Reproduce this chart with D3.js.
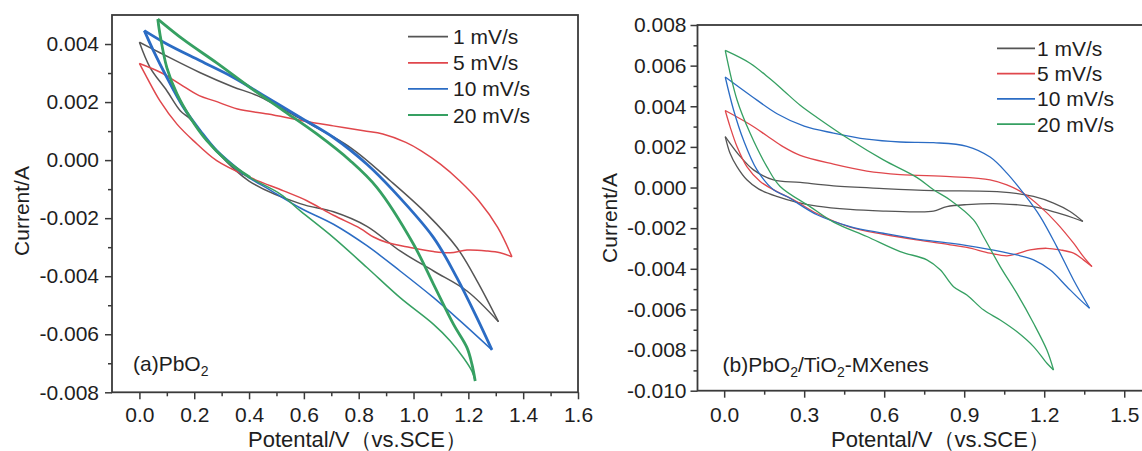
<!DOCTYPE html>
<html>
<head>
<meta charset="utf-8">
<script src="https://cdn.jsdelivr.net/npm/d3@7"></script>
<style>
  body { margin: 0; background: #fff; }
  svg text { font-family: "Liberation Sans", Arial, sans-serif; fill: #1e1e1e; }
</style>
</head>
<body>
<svg id="chart" width="1142" height="451"></svg>
<script>
// legend + colours
const seriesNames = ['1 mV/s', '5 mV/s', '10 mV/s', '20 mV/s']
const seriesColors = ['#555555', '#e0474c', '#2b6cc4', '#36a062']

// (a) PbO2 -- [potential V, current A], each loop split into its two branches
const a1Upper = [[0.0,0.00406],[0.075,0.0037],[0.22,0.00302],[0.34,0.00253],[0.43,0.00222],[0.59,0.00141],[0.77,0.00043],[0.915,-0.00071],[1.049,-0.00186],[1.158,-0.00301],[1.231,-0.00415],[1.31,-0.00557]]
const a1Lower = [[0.0,0.00406],[0.039,0.00319],[0.1,0.00239],[0.149,0.0017],[0.185,0.00142],[0.28,0.00032],[0.4,-0.00072],[0.586,-0.0015],[0.708,-0.00178],[0.83,-0.00228],[0.951,-0.00313],[1.073,-0.00382],[1.195,-0.00451],[1.31,-0.00557]]
const a5Upper = [[0.0,0.00333],[0.078,0.00302],[0.148,0.00262],[0.218,0.00222],[0.274,0.00204],[0.358,0.00176],[0.469,0.00159],[0.595,0.00136],[0.707,0.00118],[0.818,0.00101],[0.888,0.0009],[0.972,0.00061],[1.028,0.00032],[1.098,-0.00014],[1.168,-0.00071],[1.238,-0.0014],[1.307,-0.00232],[1.359,-0.00333]]
const a5Lower = [[0.0,0.00333],[0.027,0.00285],[0.075,0.00204],[0.137,0.00124],[0.197,0.00067],[0.282,-0.00002],[0.404,-0.0006],[0.526,-0.00106],[0.611,-0.0014],[0.708,-0.0019],[0.805,-0.00235],[0.854,-0.00265],[0.903,-0.00284],[0.988,-0.00301],[1.073,-0.00315],[1.134,-0.00319],[1.195,-0.0031],[1.268,-0.00313],[1.316,-0.00319],[1.359,-0.00333]]
const a10Upper = [[0.018,0.00446],[0.1,0.004],[0.222,0.00342],[0.343,0.00285],[0.465,0.00216],[0.587,0.00147],[0.708,0.00078],[0.83,-0.00014],[0.927,-0.00106],[1.073,-0.00267],[1.158,-0.00405],[1.231,-0.00543],[1.286,-0.00654]]
const a10Lower = [[0.018,0.00446],[0.051,0.00377],[0.1,0.00285],[0.161,0.00181],[0.222,0.00101],[0.282,0.00032],[0.38,-0.00048],[0.48,-0.00105],[0.587,-0.00165],[0.708,-0.00221],[0.83,-0.00295],[0.951,-0.00382],[1.073,-0.00474],[1.17,-0.00554],[1.286,-0.00654]]
const a20Upper = [[0.067,0.00486],[0.161,0.00415],[0.282,0.00335],[0.404,0.0025],[0.526,0.0017],[0.647,0.0009],[0.769,-0.00002],[0.866,-0.00094],[1.0,-0.0029],[1.073,-0.00428],[1.146,-0.00566],[1.195,-0.00646],[1.213,-0.00703],[1.225,-0.00761]]
const a20Lower = [[0.067,0.00486],[0.075,0.00434],[0.1,0.00319],[0.137,0.00228],[0.185,0.00147],[0.246,0.00067],[0.319,-0.00002],[0.404,-0.0006],[0.514,-0.00117],[0.587,-0.00175],[0.708,-0.00267],[0.83,-0.0037],[0.951,-0.00474],[1.073,-0.00566],[1.134,-0.00623],[1.182,-0.00681],[1.213,-0.00727],[1.225,-0.00761]]

// (b) PbO2/TiO2-MXenes
const b1Upper = [[0.004,0.00251],[0.06,0.00153],[0.11,0.00087],[0.185,0.00038],[0.285,0.00025],[0.41,0.00008],[0.597,-0.00005],[0.785,-0.00015],[1.035,-0.00021],[1.16,-0.00044],[1.235,-0.00077],[1.297,-0.00118],[1.345,-0.00167]]
const b1Lower = [[0.004,0.00251],[0.022,0.00169],[0.048,0.00103],[0.085,0.00038],[0.13,-0.00008],[0.2,-0.00045],[0.27,-0.00072],[0.348,-0.00092],[0.472,-0.00108],[0.597,-0.00116],[0.722,-0.0012],[0.785,-0.00116],[0.835,-0.00094],[0.91,-0.00084],[1.035,-0.0008],[1.16,-0.00094],[1.247,-0.00124],[1.31,-0.0015],[1.345,-0.00167]]
const b5Upper = [[0.004,0.00379],[0.097,0.0031],[0.16,0.00255],[0.222,0.002],[0.285,0.00158],[0.41,0.00115],[0.535,0.00081],[0.66,0.00064],[0.847,0.00054],[0.997,0.00038],[1.06,0.00013],[1.122,-0.00028],[1.185,-0.00094],[1.247,-0.00175],[1.31,-0.00274],[1.347,-0.0034],[1.379,-0.00389]]
const b5Lower = [[0.004,0.00379],[0.022,0.003],[0.048,0.00202],[0.085,0.00103],[0.135,0.0003],[0.198,-0.0002],[0.26,-0.0006],[0.348,-0.00128],[0.472,-0.00195],[0.597,-0.0023],[0.722,-0.00258],[0.847,-0.00282],[0.91,-0.00295],[0.997,-0.00323],[1.06,-0.00336],[1.097,-0.00327],[1.147,-0.00307],[1.21,-0.00299],[1.26,-0.00307],[1.31,-0.00323],[1.347,-0.00356],[1.379,-0.00389]]
const b10Upper = [[0.004,0.00544],[0.1,0.00452],[0.2,0.00362],[0.3,0.00302],[0.41,0.00268],[0.535,0.00238],[0.66,0.00224],[0.785,0.00221],[0.91,0.00203],[0.997,0.0015],[1.06,0.00071],[1.122,-0.00028],[1.185,-0.00143],[1.247,-0.00291],[1.31,-0.00455],[1.37,-0.00594]]
const b10Lower = [[0.004,0.00544],[0.035,0.00383],[0.072,0.00235],[0.123,0.00087],[0.185,-0.00011],[0.235,-0.00044],[0.348,-0.00134],[0.472,-0.00192],[0.597,-0.00225],[0.722,-0.00254],[0.847,-0.00274],[0.972,-0.00299],[1.097,-0.00332],[1.16,-0.00356],[1.222,-0.00405],[1.285,-0.00488],[1.335,-0.00553],[1.37,-0.00594]]
const b20Upper = [[0.004,0.00675],[0.097,0.00612],[0.172,0.00535],[0.222,0.00478],[0.285,0.00405],[0.348,0.00345],[0.472,0.00235],[0.597,0.00136],[0.722,0.0005],[0.785,-0.00011],[0.847,-0.00061],[0.935,-0.00159],[0.972,-0.00241],[1.035,-0.00389],[1.097,-0.0052],[1.16,-0.00668],[1.21,-0.008],[1.235,-0.00898]]
const b20Lower = [[0.004,0.00675],[0.048,0.00432],[0.097,0.00268],[0.16,0.00103],[0.21,0.00005],[0.322,-0.00094],[0.41,-0.0017],[0.535,-0.00241],[0.66,-0.00315],[0.76,-0.00356],[0.81,-0.00405],[0.86,-0.00488],[0.91,-0.00529],[0.972,-0.00602],[1.035,-0.00652],[1.097,-0.00709],[1.16,-0.00783],[1.21,-0.00865],[1.235,-0.00898]]

// ticks
const aXTicks = [0, 0.2, 0.4, 0.6, 0.8, 1.0, 1.2, 1.4, 1.6]
const aXMinor = [0.1, 0.3, 0.5, 0.7, 0.9, 1.1, 1.3, 1.5]
const aYTicks = [-0.008, -0.006, -0.004, -0.002, 0, 0.002, 0.004]
const aYMinor = [-0.007, -0.005, -0.003, -0.001, 0.001, 0.003]
const bXTicks = [0, 0.3, 0.6, 0.9, 1.2, 1.5]
const bXMinor = [0.15, 0.45, 0.75, 1.05, 1.35]
const bYTicks = [-0.010, -0.008, -0.006, -0.004, -0.002, 0, 0.002, 0.004, 0.006, 0.008]
const bYMinor = [-0.009, -0.007, -0.005, -0.003, -0.001, 0.001, 0.003, 0.005, 0.007]

const svg = d3.select('#chart')
const axisColor = '#3a3a3a'

const panels = [
  {
    xDomain: [-0.1, 1.6], xRange: [112, 578],
    yDomain: [-0.008, 0.005], yRange: [392.3, 15],
    xTicks: aXTicks, xMinor: aXMinor, yTicks: aYTicks, yMinor: aYMinor,
    xFmt: 1, xPad: 8, yPad: 6,
    series: [[a1Upper, a1Lower], [a5Upper, a5Lower], [a10Upper, a10Lower], [a20Upper, a20Lower]],
    thick: [false, false, true, true],
    thin: 1.5,
    yTitle: { x: 28.5, y: 211 },
    xTitle: { x: 248, y: 447 },
    legend: { x1: 408, x2: 448, tx: 453, y0: 36.7, dy: 26.1 },
    label: { x: 133, y: 371, parts: ['(a)PbO', '2', ''] }
  },
  {
    xDomain: [-0.1, 1.6], xRange: [697.5, 1150.9],
    yDomain: [-0.010, 0.008], yRange: [390.7, 25],
    xTicks: bXTicks, xMinor: bXMinor, yTicks: bYTicks, yMinor: bYMinor,
    xFmt: 1, xPad: 9.5, yPad: 4,
    series: [[b1Upper, b1Lower], [b5Upper, b5Lower], [b10Upper, b10Lower], [b20Upper, b20Lower]],
    thick: [false, false, false, false],
    thin: 1.3,
    yTitle: { x: 617, y: 218 },
    xTitle: { x: 831, y: 447 },
    legend: { x1: 997, x2: 1035, tx: 1037, y0: 48.3, dy: 25.3 },
    label: { x: 722.5, y: 372, parts: ['(b)PbO', '2', '/TiO', '2', '-MXenes'] }
  }
]

function styleAxis(g) {
  g.select('.domain').remove()
  g.selectAll('.tick line').attr('stroke', axisColor).attr('stroke-width', 1.5)
  g.selectAll('.tick text').attr('font-size', 21).attr('fill', '#1e1e1e')
    .attr('font-family', '"Liberation Sans", Arial, sans-serif')
}

function drawPanel(p) {
  const x = d3.scaleLinear().domain(p.xDomain).range(p.xRange)
  const y = d3.scaleLinear().domain(p.yDomain).range(p.yRange)
  const g = svg.append('g')
  const bottom = p.yRange[0], left = p.xRange[0]

  g.append('g').attr('transform', `translate(0,${bottom})`)
    .call(d3.axisBottom(x).tickValues(p.xMinor).tickSize(4).tickFormat(''))
    .call(styleAxis)
  g.append('g').attr('transform', `translate(0,${bottom})`)
    .call(d3.axisBottom(x).tickValues(p.xTicks).tickSize(7).tickPadding(p.xPad)
      .tickFormat((d)=> d.toFixed(p.xFmt)))
    .call(styleAxis)
  g.append('g').attr('transform', `translate(${left},0)`)
    .call(d3.axisLeft(y).tickValues(p.yMinor).tickSize(4).tickFormat(''))
    .call(styleAxis)
  g.append('g').attr('transform', `translate(${left},0)`)
    .call(d3.axisLeft(y).tickValues(p.yTicks).tickSize(7).tickPadding(p.yPad)
      .tickFormat((d)=> d.toFixed(3)))
    .call(styleAxis)

  // frame
  g.append('rect')
    .attr('x', left).attr('y', p.yRange[1])
    .attr('width', p.xRange[1] - left).attr('height', bottom - p.yRange[1])
    .attr('fill', 'none').attr('stroke', axisColor).attr('stroke-width', 1.8)

  const line = d3.line()
    .x((d)=> x(d[0]))
    .y((d)=> y(d[1]))
    .curve(d3.curveCatmullRom.alpha(0.5))

  p.series.forEach((branches, i)=> {
    const [upper, lower] = branches
    const w = p.thick[i] ? 2.8 : p.thin
    g.append('path').datum(lower)
      .attr('d', line).attr('fill', 'none')
      .attr('stroke', seriesColors[i]).attr('stroke-width', p.thin)
      .attr('stroke-linejoin', 'round')
    if(p.thick[i]) {
      // the steep start of the return sweep is drawn heavy too
      g.append('path').datum(lower.filter((d)=> d[0] <= 0.42))
        .attr('d', line).attr('fill', 'none')
        .attr('stroke', seriesColors[i]).attr('stroke-width', w)
        .attr('stroke-linejoin', 'round')
    }
    g.append('path').datum(upper)
      .attr('d', line).attr('fill', 'none')
      .attr('stroke', seriesColors[i]).attr('stroke-width', w)
      .attr('stroke-linejoin', 'round')
  })

  // legend
  const lg = g.append('g')
  seriesNames.forEach((name, i)=> {
    const ly = p.legend.y0 + i * p.legend.dy
    lg.append('line')
      .attr('x1', p.legend.x1).attr('x2', p.legend.x2)
      .attr('y1', ly).attr('y2', ly)
      .attr('stroke', seriesColors[i]).attr('stroke-width', 1.8)
    lg.append('text')
      .attr('x', p.legend.tx).attr('y', ly).attr('dy', '0.36em')
      .attr('font-size', 21).text(name)
  })

  // sample label with subscripts
  const lab = g.append('text')
    .attr('x', p.label.x).attr('y', p.label.y).attr('font-size', 21)
  p.label.parts.forEach((t, k)=> {
    if(!t) return
    const sub = k % 2 === 1
    lab.append('tspan')
      .attr('font-size', sub ? 14 : 21)
      .attr('dy', sub ? 5 : (k > 0 ? -5 : 0))
      .text(t)
  })

  // axis titles
  g.append('text')
    .attr('transform', `translate(${p.yTitle.x},${p.yTitle.y}) rotate(-90)`)
    .attr('text-anchor', 'middle').attr('font-size', 21)
    .text('Current/A')
  g.append('text')
    .attr('x', p.xTitle.x).attr('y', p.xTitle.y)
    .attr('font-size', 22)
    .text('Potental/V（vs.SCE）')
}

panels.forEach(drawPanel)
</script>
</body>
</html>
